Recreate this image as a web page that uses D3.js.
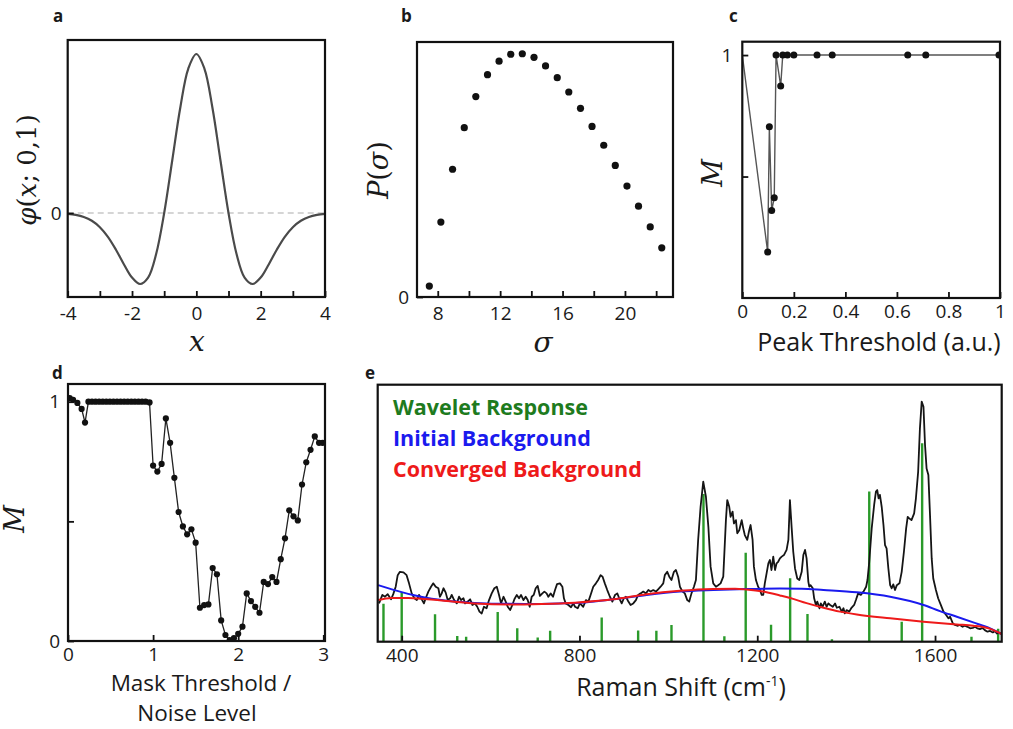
<!DOCTYPE html>
<html>
<head>
<meta charset="utf-8">
<script src="https://cdn.jsdelivr.net/npm/d3@7"></script>
<style>
  body { margin: 0; background: #fff; }
  text { font-family: 'Open Sans', sans-serif; fill: #1a1a1a; }
  .math { font-family: 'DejaVu Serif', serif; }
</style>
</head>
<body>
<svg id="fig" width="1013" height="729"></svg>
<script>
// ---------- panel a: Ricker wavelet φ(x;0,1) ----------
const waveX = [-4,-3.75,-3.5,-3.25,-3,-2.75,-2.5,-2.25,-2,-1.75,-1.5,-1.25,-1,-0.75,-0.5,-0.25,0,
               0.25,0.5,0.75,1,1.25,1.5,1.75,2,2.25,2.5,2.75,3,3.25,3.5,3.75,4];
const waveY = [-0.005,-0.0116,-0.0246,-0.0486,-0.0889,-0.1496,-0.2307,-0.3232,-0.406,-0.4461,-0.4058,-0.2575,0,0.3302,0.6619,0.9087,1,
               0.9087,0.6619,0.3302,0,-0.2575,-0.4058,-0.4461,-0.406,-0.3232,-0.2307,-0.1496,-0.0889,-0.0486,-0.0246,-0.0116,-0.005];
const waveTicks = [-4,-3,-2,-1,0,1,2,3,4];
const waveTickLabels = ["-4","","-2","","0","","2","","4"];

// ---------- panel b: P(σ) ----------
const sigma = [7.46,8.2,8.95,9.7,10.44,11.19,11.93,12.68,13.42,14.17,14.91,15.66,16.4,17.15,17.89,18.64,19.38,20.13,20.87,21.62,22.36];
const pSigma = [0.043,0.294,0.501,0.664,0.786,0.872,0.925,0.952,0.954,0.940,0.906,0.860,0.804,0.740,0.669,0.595,0.516,0.435,0.356,0.275,0.193];
const sigmaTicks = [8,10,12,14,16,18,20,22];
const sigmaTickLabels = ["8","","12","","16","","20",""];

// ---------- panel c: M vs peak threshold ----------
const peakThr = [0,0.0985,0.105,0.114,0.124,0.131,0.149,0.157,0.175,0.2,0.29,0.349,0.642,0.712,0.996];
const peakM   = [1,0.189,0.705,0.36,0.413,1,0.873,1,1,1,1,1,1,1,1];
const peakTicks = [0,0.2,0.4,0.6,0.8,1];
const peakTickLabels = ["0","0.2","0.4","0.6","0.8","1"];

// ---------- panel d: M vs mask threshold / noise level ----------
const maskThr = [0.02,0.06,0.11,0.16,0.20,0.24,0.282,0.324,0.366,0.408,0.45,0.492,0.534,0.576,0.618,0.66,0.702,0.744,0.786,0.828,0.87,0.912,0.958,
  1.00,1.05,1.10,1.15,1.20,1.25,1.30,1.35,1.40,1.45,1.50,1.55,1.60,1.65,1.70,1.75,1.80,1.85,1.90,1.95,2.00,2.05,2.10,2.15,2.20,2.25,
  2.30,2.35,2.40,2.45,2.50,2.55,2.60,2.65,2.70,2.75,2.80,2.85,2.90,2.95,2.99];
const maskM = [1.015,1.008,0.995,0.97,0.913,1.0,1.0,1.0,1.0,1.0,1.0,1.0,1.0,1.0,1.0,1.0,1.0,1.0,1.0,1.0,1.0,1.0,0.997,
  0.733,0.708,0.74,0.93,0.828,0.682,0.539,0.479,0.446,0.467,0.411,0.139,0.15,0.153,0.305,0.279,0.086,0.025,0.004,0.012,0.03,0.06,0.199,0.167,0.143,0.118,
  0.247,0.238,0.267,0.247,0.342,0.429,0.546,0.521,0.504,0.654,0.747,0.799,0.855,0.828,0.828];
const maskTicks = [0,1,2,3];
const maskTickLabels = ["0","1","2","3"];

// ---------- panel e: Raman spectrum ----------
const ramanX = [349,356.5,362.5,368.5,376,381,386.5,391,396,404,411,416.5,422.5,428.5,434,439,445,450,454,460,466,471,476.5,482.5,486,490,494,499,503.5,509,512.5,518,524,529,533.5,539,542.5,548.5,554,559,565,570,575,580,585,591,596.5,602.5,608.5,614,619,623.5,629,634,638.5,644,649,653.5,659,664,668.5,674,679,683.5,688,692.5,697,701.5,706,711,716.5,721,726,730,735,740.5,745,749.5,756,761.5,765,769,775,781,786,790,796,
  801,808.5,814.5,820,825,831,837,842,847.5,852,857,862.5,868.5,874,880,885,889.5,895,900,904.5,910,915,921,927,932,937.5,943.5,949.5,955,960,966,972,977,982.5,988.5,992,997.5,1002,1007,1012.5,1017,1022,1026,1032,1037,1042.5,1047,1052,1057.5,1062,1067,1072.5,1078.5,1084.5,1090,1095,1101,1107,1112,1117.5,1123.5,1129.5,1132.5,1137,1140,1144.5,1147.5,1152,1155,1159.5,1165,1168.5,1172,1177.5,1182,1185,1189.5,1192.5,1197,1202,1206,1210,1213.5,1217,1221,1225,1228.5,1232,1236,1240,1243.5,1247,1251,1255,1260,1266,1270,1273.5,
  1277.5,1281,1285,1290,1294.7,1300,1303.7,1307.5,1311,1315,1317,1320,1325,1328,1332,1335,1340,1343,1347,1352,1356,1360,1364,1370,1375,1379,1385,1390,1394,1397,1401,1407,1412,1418,1422,1427,1433,1439,1445,1448,1452,1457.5,1463,1467,1470,1473,1476,1480,1484,1487.5,1491,1495,1499,1502.5,1506,1510,1514,1520,1525,1530,1535,1538.5,1542,1547,1553,1557,1562,1566,1570,1574,1577.5,1581,1585,1589,1592.5,1596,1602,1607,1613,1619,1625,1630,1634,1640,1645,1650,1656,1662,1667,1673,1679,1685,1690,1695,1701,1707,1712,1718,1724,1730,1735,1739,1743,1748];
const ramanY = [0.149,0.182,0.175,0.185,0.165,0.185,0.214,0.259,0.272,0.27,0.259,0.227,0.188,0.169,0.162,0.182,0.165,0.149,0.169,0.195,0.214,0.227,0.214,0.208,0.175,0.188,0.208,0.191,0.162,0.169,0.182,0.162,0.149,0.175,0.162,0.169,0.149,0.156,0.165,0.143,0.149,0.136,0.117,0.11,0.136,0.13,0.162,0.188,0.208,0.214,0.182,0.149,0.175,0.156,0.136,0.123,0.143,0.165,0.182,0.169,0.182,0.162,0.175,0.162,0.136,0.175,0.182,0.208,0.217,0.178,0.188,0.195,0.188,0.175,0.188,0.175,0.201,0.224,0.227,0.214,0.169,0.149,0.143,0.134,0.149,0.136,0.13,
  0.149,0.136,0.162,0.156,0.182,0.214,0.227,0.24,0.259,0.253,0.227,0.201,0.175,0.156,0.182,0.188,0.169,0.149,0.169,0.175,0.156,0.143,0.149,0.162,0.182,0.188,0.195,0.188,0.201,0.195,0.201,0.195,0.204,0.214,0.227,0.259,0.272,0.253,0.24,0.272,0.279,0.253,0.214,0.195,0.188,0.162,0.156,0.188,0.214,0.24,0.396,0.525,0.623,0.564,0.447,0.292,0.227,0.214,0.22,0.227,0.253,0.473,0.551,0.525,0.486,0.506,0.46,0.473,0.422,0.434,0.473,0.441,0.415,0.396,0.434,0.454,0.396,0.292,0.24,0.214,0.201,0.182,0.182,0.227,0.266,0.305,0.318,0.279,0.331,0.279,0.305,0.311,0.324,0.331,0.337,0.357,0.396,0.551,
  0.441,0.35,0.285,0.246,0.24,0.272,0.337,0.357,0.324,0.233,0.214,0.22,0.208,0.169,0.143,0.156,0.13,0.149,0.136,0.156,0.136,0.149,0.143,0.136,0.149,0.132,0.136,0.117,0.13,0.11,0.123,0.117,0.132,0.143,0.162,0.188,0.182,0.195,0.214,0.24,0.311,0.441,0.532,0.584,0.59,0.558,0.571,0.525,0.454,0.376,0.363,0.285,0.22,0.208,0.223,0.201,0.22,0.227,0.272,0.35,0.441,0.486,0.48,0.473,0.499,0.558,0.661,0.83,0.934,0.914,0.765,0.674,0.649,0.48,0.324,0.246,0.201,0.169,0.143,0.117,0.104,0.091,0.097,0.071,0.065,0.062,0.065,0.058,0.062,0.058,0.052,0.054,0.058,0.052,0.049,0.054,0.045,0.039,0.042,0.036,0.042,0.032,0.036,0.03];

const bgInitX = [347,400,452,527,602,677,752,812,876,951,1026,1101,1176,1251,1300,1349,1424,1499,1574,1611,1649,1686,1724,1750];
const bgInitY = [0.22,0.193,0.172,0.155,0.148,0.147,0.149,0.153,0.165,0.182,0.195,0.201,0.205,0.207,0.206,0.201,0.192,0.175,0.143,0.119,0.097,0.075,0.052,0.03];
const bgConvX = [347,377,415,490,565,640,715,790,876,951,1026,1101,1150,1176,1213,1251,1274,1311,1349,1386,1424,1499,1574,1649,1686,1724,1750];
const bgConvY = [0.162,0.17,0.17,0.16,0.149,0.145,0.147,0.152,0.165,0.185,0.198,0.205,0.206,0.203,0.195,0.18,0.17,0.15,0.132,0.117,0.106,0.091,0.078,0.067,0.062,0.05,0.03];

const waveletX = [359,400,475,525,545,616,660,706,734,850,932,973,1007,1079,1126,1174,1231,1274,1313,1368,1452,1525,1571,1682,1742];
const waveletY = [0.148,0.192,0.107,0.022,0.019,0.116,0.052,0.016,0.043,0.094,0.044,0.043,0.065,0.575,0.021,0.346,0.066,0.247,0.108,0.01,0.584,0.078,0.772,0.019,0.05];
const ramanTicks = [400,800,1200,1600];

const legendItems = ["Wavelet Response","Initial Background","Converged Background"];
const legendColors = ["#1e7b1e","#1a1aee","#ee1a1a"];

// ---------- drawing ----------
const svg = d3.select("#fig");
const TICK_FONT = 19;
const TITLE_FONT = 25;
let clipId = 0;

function panel(box, xDomain, yDomain) {
  const g = svg.append("g");
  const x = d3.scaleLinear().domain(xDomain).range([box.x0, box.x1]);
  const y = d3.scaleLinear().domain(yDomain).range([box.y1, box.y0]);
  const id = "clip" + (clipId++);
  svg.append("clipPath").attr("id", id).append("rect")
    .attr("x", box.x0).attr("y", box.y0).attr("width", box.x1 - box.x0).attr("height", box.y1 - box.y0);
  const plot = g.append("g").attr("clip-path", `url(#${id})`);
  return { g, plot, x, y, box };
}

function frame(p) {
  p.g.append("rect")
    .attr("x", p.box.x0).attr("y", p.box.y0)
    .attr("width", p.box.x1 - p.box.x0).attr("height", p.box.y1 - p.box.y0)
    .attr("fill", "none").attr("stroke", "#111").attr("stroke-width", 2.2);
}

function styleAxis(a) {
  a.select(".domain").remove();
  a.selectAll("line").attr("stroke", "#111").attr("stroke-width", 1.8);
  a.selectAll("text").attr("font-size", TICK_FONT).attr("font-family", "'Open Sans', sans-serif").attr("fill", "#1a1a1a");
}

function xAxis(p, ticks, labels, pad) {
  const ax = d3.axisBottom(p.x).tickValues(ticks).tickSize(-6).tickPadding(pad)
    .tickFormat((d, i) => labels[i]);
  styleAxis(p.g.append("g").attr("transform", `translate(0,${p.box.y1})`).call(ax));
}

function yAxis(p, ticks, labels, pad) {
  const ax = d3.axisLeft(p.y).tickValues(ticks).tickSize(-6).tickPadding(pad)
    .tickFormat((d, i) => labels[i]);
  styleAxis(p.g.append("g").attr("transform", `translate(${p.box.x0},0)`).call(ax));
}

function letter(t, x, y) {
  svg.append("text").attr("x", x).attr("y", y).attr("font-size", 17).attr("font-weight", "bold")
    .attr("font-family", "'Liberation Sans', Arial, sans-serif").text(t);
}

function mathLabel(x, y, parts, size, rotate) {
  const t = svg.append("text").attr("class", "math").attr("font-size", size)
    .attr("text-anchor", "middle")
    .attr("transform", `translate(${x},${y})` + (rotate ? " rotate(-90)" : ""));
  parts.forEach(([s, it]) => t.append("tspan").attr("font-style", it ? "italic" : "normal").text(s));
  return t;
}

function title(t, x, y, size) {
  return svg.append("text").attr("x", x).attr("y", y).attr("text-anchor", "middle")
    .attr("font-size", size || TITLE_FONT).text(t);
}

// ----- a -----
{
  const p = panel({ x0: 67.7, x1: 325, y0: 40, y1: 297 }, [-4, 4], [-0.528, 1.088]);
  p.plot.append("line").attr("x1", p.x(-4)).attr("x2", p.x(4)).attr("y1", p.y(0)).attr("y2", p.y(0))
    .attr("stroke", "#c8c8c8").attr("stroke-width", 1.5).attr("stroke-dasharray", "6,4");
  const pts = waveX.map((v, i) => [v, waveY[i]]);
  p.plot.append("path").datum(pts)
    .attr("d", d3.line().x(d => p.x(d[0])).y(d => p.y(d[1])).curve(d3.curveCatmullRom))
    .attr("fill", "none").attr("stroke", "#4a4a4a").attr("stroke-width", 2.2);
  xAxis(p, waveTicks, waveTickLabels, 10);
  yAxis(p, [0], ["0"], 6);
  frame(p);
  letter("a", 53, 22);
  mathLabel(36, 170, [["φ", true], ["(", false], ["x", true], ["; 0,1)", false]], 26, true);
  mathLabel(197, 351, [["x", true]], 28, false);
}

// ----- b -----
{
  const p = panel({ x0: 417, x1: 673, y0: 42, y1: 297 }, [6.67, 23.08], [0, 1]);
  p.plot.selectAll("circle").data(sigma).join("circle")
    .attr("cx", d => p.x(d)).attr("cy", (d, i) => p.y(pSigma[i])).attr("r", 3.6).attr("fill", "#111");
  xAxis(p, sigmaTicks, sigmaTickLabels, 10);
  yAxis(p, [0], ["0"], 8);
  frame(p);
  letter("b", 401, 22);
  mathLabel(388, 170, [["P", true], ["(", false], ["σ", true], [")", false]], 27, true);
  mathLabel(543, 352, [["σ", true]], 28, false);
}

// ----- c -----
{
  const p = panel({ x0: 742.3, x1: 1000, y0: 41.7, y1: 298 }, [0, 1], [0, 1.055]);
  const pts = peakThr.map((v, i) => [v, peakM[i]]);
  p.plot.append("path").datum(pts)
    .attr("d", d3.line().x(d => p.x(d[0])).y(d => p.y(d[1])))
    .attr("fill", "none").attr("stroke", "#555").attr("stroke-width", 1.4);
  p.plot.selectAll("circle").data(pts.slice(1)).join("circle")
    .attr("cx", d => p.x(d[0])).attr("cy", d => p.y(d[1])).attr("r", 3.5).attr("fill", "#111");
  xAxis(p, peakTicks, peakTickLabels, 7);
  yAxis(p, [0.5, 1], ["", "1"], 10);
  frame(p);
  letter("c", 729, 22);
  mathLabel(722, 173, [["M", true]], 27, true);
  title("Peak Threshold (a.u.)", 879, 351);
}

// ----- d -----
{
  const p = panel({ x0: 68, x1: 325, y0: 384, y1: 641 }, [0, 3.02], [0, 1.074]);
  const pts = maskThr.map((v, i) => [v, maskM[i]]);
  p.plot.append("path").datum(pts)
    .attr("d", d3.line().x(d => p.x(d[0])).y(d => p.y(d[1])))
    .attr("fill", "none").attr("stroke", "#222").attr("stroke-width", 1.3);
  p.plot.selectAll("circle").data(pts).join("circle")
    .attr("cx", d => p.x(d[0])).attr("cy", d => p.y(d[1])).attr("r", 3.1).attr("fill", "#111");
  xAxis(p, maskTicks, maskTickLabels, 6);
  yAxis(p, [0, 0.5, 1], ["0", "", "1"], 8);
  frame(p);
  letter("d", 52, 379);
  mathLabel(24, 519, [["M", true]], 27, true);
  // two-line axis title
  title("Mask Threshold /", 201, 690.5, 22.5);
  title("Noise Level", 197, 721.2, 22.5);
}

// ----- e -----
{
  const p = panel({ x0: 377.7, x1: 1001.7, y0: 384.7, y1: 641.7 }, [346, 1750], [0, 1]);
  p.plot.selectAll("line.stick").data(waveletX).join("line").attr("class", "stick")
    .attr("x1", d => p.x(d)).attr("x2", d => p.x(d))
    .attr("y1", p.y(0)).attr("y2", (d, i) => p.y(waveletY[i]))
    .attr("stroke", "#2a9a2a").attr("stroke-width", 2.4);
  const line = d3.line().x(d => p.x(d[0])).y(d => p.y(d[1]));
  p.plot.append("path").datum(ramanX.map((v, i) => [v, ramanY[i]]))
    .attr("d", line).attr("fill", "none").attr("stroke", "#151515").attr("stroke-width", 1.8)
    .attr("stroke-linejoin", "round");
  const smooth = d3.line().x(d => p.x(d[0])).y(d => p.y(d[1])).curve(d3.curveMonotoneX);
  p.plot.append("path").datum(bgInitX.map((v, i) => [v, bgInitY[i]]))
    .attr("d", smooth).attr("fill", "none").attr("stroke", legendColors[1]).attr("stroke-width", 2);
  p.plot.append("path").datum(bgConvX.map((v, i) => [v, bgConvY[i]]))
    .attr("d", smooth).attr("fill", "none").attr("stroke", legendColors[2]).attr("stroke-width", 2);
  xAxis(p, ramanTicks, ramanTicks.map(String), 7);
  frame(p);
  letter("e", 365, 379);
  legendItems.forEach((t, i) => {
    svg.append("text").attr("x", 393).attr("y", 415 + i * 31).attr("font-size", 21.5).attr("font-weight", "bold")
      .style("fill", legendColors[i]).text(t);
  });
  const xl = title("", 681, 696);
  xl.append("tspan").text("Raman Shift (cm");
  xl.append("tspan").attr("font-size", 14).attr("dy", -10).text("-1");
  xl.append("tspan").attr("dy", 10).text(")");
}
</script>
</body>
</html>
